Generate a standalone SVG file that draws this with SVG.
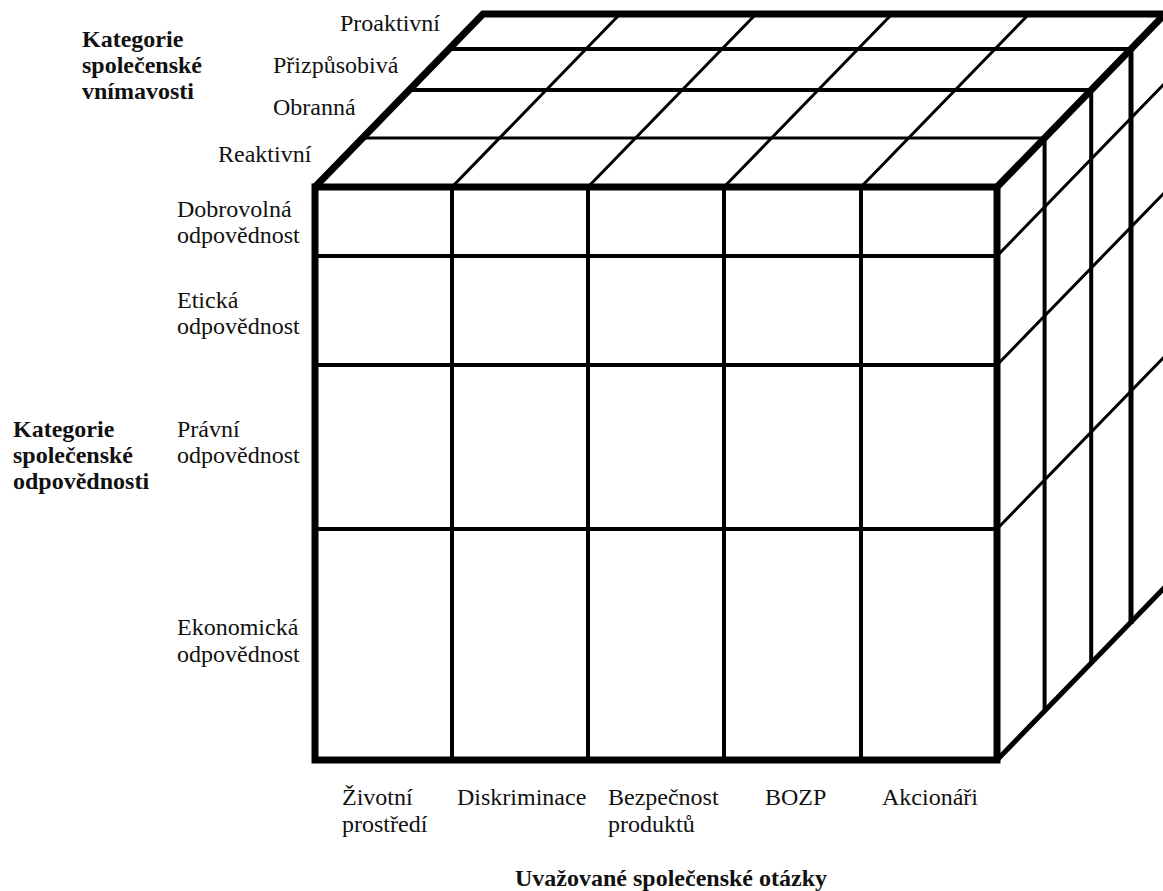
<svg xmlns="http://www.w3.org/2000/svg" width="1163" height="891" viewBox="0 0 1163 891">
<style>
.t{font-family:"Liberation Serif","Times New Roman",serif;font-size:24px;fill:#111}
.b{font-weight:bold}
.L{stroke:#000;fill:none;stroke-linecap:butt}
.w7{stroke-width:7}
.w5{stroke-width:5}
.w4{stroke-width:4}
.w3{stroke-width:3}
</style>
<rect width="1163" height="891" fill="#fff"/>
<g id="cube">
<g id="top-face" class="L">
<path class="w3" d="M452 187L620 14M588 187L756 14M724 187L892 14M861 187L1029 14"/>
<path class="w3" d="M362.6 138H1044.6"/>
<path class="w4" d="M409.2 90H1091.2"/>
<path class="w4" d="M449 49H1131"/>
</g>
<g id="right-face" class="L">
<path class="w3" d="M997 256L1165 83M997 365L1165 192M997 529L1165 356"/>
<path class="w4" d="M1044.6 138V711.6M1091.2 90V663.8"/>
<path class="w5" d="M1131 49V624"/>
<path class="w5" d="M997 760L1165 587"/>
</g>
<g id="front-face" class="L">
<path class="w4" d="M452 187V760M588 187V760M724 187V760M861 187V760"/>
<path class="w4" d="M315 256H997M315 365H997M315 529H997"/>
<rect class="w7" x="315" y="187" width="682" height="573"/>
</g>
<g id="edges" class="L">
<path class="w7" d="M315 187L483 14H1170" stroke-linejoin="miter"/>
<path class="w7" d="M997 187L1165 14"/>
</g>
</g>
<g id="label-vnimavost">
<text class="t b" x="82" y="47">Kategorie</text>
<text class="t b" x="82" y="73">společenské</text>
<text class="t b" x="82" y="99">vnímavosti</text>
</g>
<g id="row-labels-top">
<text class="t" x="340" y="31">Proaktivní</text>
<text class="t" x="273" y="73">Přizpůsobivá</text>
<text class="t" x="273" y="115">Obranná</text>
<text class="t" x="218" y="162">Reaktivní</text>
</g>
<g id="label-odpovednost">
<text class="t b" x="13" y="437">Kategorie</text>
<text class="t b" x="13" y="463">společenské</text>
<text class="t b" x="13" y="489">odpovědnosti</text>
</g>
<g id="row-labels-front">
<text class="t" x="177" y="217">Dobrovolná</text>
<text class="t" x="177" y="243">odpovědnost</text>
<text class="t" x="177" y="308">Etická</text>
<text class="t" x="177" y="334">odpovědnost</text>
<text class="t" x="177" y="437">Právní</text>
<text class="t" x="177" y="463">odpovědnost</text>
<text class="t" x="177" y="635">Ekonomická</text>
<text class="t" x="177" y="662">odpovědnost</text>
</g>
<g id="column-labels">
<text class="t" x="342" y="805">Životní</text>
<text class="t" x="342" y="832">prostředí</text>
<text class="t" x="457" y="805">Diskriminace</text>
<text class="t" x="608" y="805">Bezpečnost</text>
<text class="t" x="608" y="832">produktů</text>
<text class="t" x="765" y="805">BOZP</text>
<text class="t" x="882" y="805">Akcionáři</text>
</g>
<g id="label-otazky">
<text class="t b" x="515" y="886">Uvažované společenské otázky</text>
</g>
</svg>
